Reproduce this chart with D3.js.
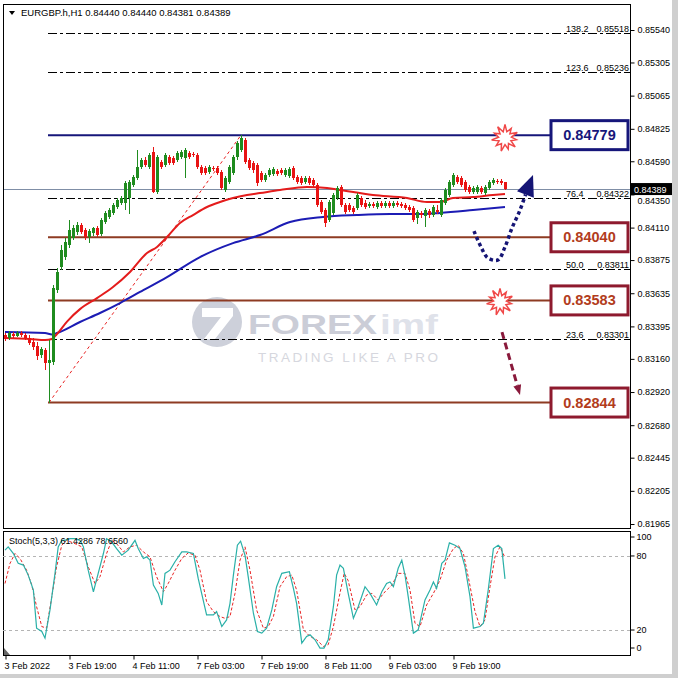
<!DOCTYPE html>
<html><head><meta charset="utf-8">
<script src="https://cdn.jsdelivr.net/npm/d3@7"></script>
<style>
body{margin:0;background:#fff;}
svg{display:block;font-family:"Liberation Sans",Arial,sans-serif;}
</style>
</head><body>
<svg id="c" width="678" height="678"></svg>
<script>
// ---------------- DATA ----------------
const titleText = "EURGBP.h,H1  0.84440 0.84440 0.84381 0.84389";
const stochTitle = "Stoch(5,3,3) 61.4286 78.6560";

const opens = [0.83333,0.83311,0.83340,0.83325,0.83347,0.83333,0.83311,0.83282,0.83253,0.83188,
0.83224,0.83130,0.83137,0.83658,0.83825,0.83897,0.83984,0.84035,0.84078,0.84129,
0.84092,0.84042,0.84071,0.84107,0.84064,0.84150,0.84187,0.84216,0.84259,0.84288,
0.84288,0.84324,0.84418,0.84469,0.84548,0.84599,0.84548,0.84657,0.84367,0.84585,
0.84563,0.84621,0.84614,0.84599,0.84621,0.84614,0.84650,0.84642,0.84635,0.84548,
0.84541,0.84512,0.84541,0.84541,0.84512,0.84382,0.84440,0.84505,0.84621,0.84671,
0.84744,0.84599,0.84577,0.84563,0.84505,0.84454,0.84491,0.84498,0.84519,0.84527,
0.84491,0.84483,0.84541,0.84476,0.84469,0.84440,0.84469,0.84454,0.84418,0.84295,
0.84237,0.84165,0.84216,0.84324,0.84404,0.84273,0.84273,0.84252,0.84252,0.84324,
0.84288,0.84266,0.84281,0.84259,0.84288,0.84266,0.84288,0.84266,0.84288,0.84281,
0.84273,0.84259,0.84252,0.84179,0.84216,0.84194,0.84230,0.84201,0.84237,0.84201,
0.84288,0.84346,0.84418,0.84476,0.84469,0.84440,0.84404,0.84367,0.84367,0.84396,
0.84360,0.84396,0.84433,0.84447,0.84447,0.84440];
const highs = [0.83347,0.83362,0.83354,0.83362,0.83362,0.83347,0.83333,0.83311,0.83282,0.83246,
0.83239,0.83296,0.83694,0.83817,0.83984,0.84035,0.84165,0.84129,0.84150,0.84143,
0.84107,0.84100,0.84114,0.84121,0.84179,0.84230,0.84252,0.84288,0.84324,0.84339,
0.84447,0.84454,0.84491,0.84671,0.84614,0.84621,0.84650,0.84693,0.84635,0.84599,
0.84650,0.84635,0.84628,0.84664,0.84671,0.84686,0.84664,0.84657,0.84650,0.84563,
0.84556,0.84563,0.84556,0.84556,0.84527,0.84483,0.84563,0.84635,0.84737,0.84779,
0.84758,0.84614,0.84592,0.84577,0.84519,0.84505,0.84541,0.84548,0.84534,0.84541,
0.84541,0.84548,0.84556,0.84491,0.84483,0.84483,0.84483,0.84469,0.84433,0.84310,
0.84252,0.84310,0.84360,0.84411,0.84418,0.84288,0.84288,0.84266,0.84360,0.84339,
0.84310,0.84295,0.84295,0.84302,0.84302,0.84302,0.84302,0.84302,0.84302,0.84295,
0.84288,0.84273,0.84266,0.84237,0.84230,0.84252,0.84244,0.84273,0.84273,0.84324,
0.84396,0.84454,0.84505,0.84491,0.84483,0.84454,0.84418,0.84411,0.84418,0.84411,
0.84418,0.84454,0.84469,0.84462,0.84462,0.84440];
const lows = [0.83289,0.83296,0.83311,0.83318,0.83318,0.83296,0.83260,0.83224,0.83152,0.83166,
0.83079,0.82844,0.83116,0.83637,0.83803,0.83875,0.83962,0.84020,0.84056,0.84064,
0.84020,0.83998,0.84049,0.84042,0.84049,0.84136,0.84172,0.84201,0.84244,0.84273,
0.84237,0.84208,0.84404,0.84454,0.84534,0.84548,0.84534,0.84360,0.84353,0.84534,
0.84548,0.84563,0.84563,0.84585,0.84606,0.84469,0.84606,0.84621,0.84534,0.84491,
0.84491,0.84498,0.84519,0.84491,0.84382,0.84367,0.84425,0.84491,0.84599,0.84657,
0.84570,0.84527,0.84505,0.84411,0.84440,0.84440,0.84476,0.84483,0.84483,0.84491,
0.84476,0.84469,0.84454,0.84425,0.84418,0.84425,0.84418,0.84404,0.84259,0.84208,
0.84114,0.84150,0.84201,0.84310,0.84259,0.84208,0.84223,0.84208,0.84237,0.84259,
0.84244,0.84252,0.84252,0.84244,0.84252,0.84252,0.84252,0.84252,0.84259,0.84252,
0.84237,0.84223,0.84150,0.84136,0.84179,0.84114,0.84179,0.84187,0.84208,0.84187,
0.84273,0.84331,0.84404,0.84425,0.84404,0.84367,0.84353,0.84353,0.84353,0.84353,
0.84346,0.84382,0.84418,0.84425,0.84418,0.84381];
const closes = [0.83304,0.83347,0.83325,0.83347,0.83333,0.83311,0.83275,0.83246,0.83181,0.83231,
0.83130,0.83152,0.83673,0.83789,0.83948,0.84006,0.84092,0.84107,0.84129,0.84078,
0.84042,0.84085,0.84107,0.84056,0.84165,0.84216,0.84237,0.84273,0.84310,0.84324,
0.84433,0.84440,0.84476,0.84548,0.84599,0.84563,0.84635,0.84367,0.84621,0.84548,
0.84635,0.84577,0.84577,0.84650,0.84657,0.84671,0.84621,0.84635,0.84548,0.84505,
0.84505,0.84548,0.84534,0.84505,0.84396,0.84469,0.84548,0.84621,0.84722,0.84758,
0.84585,0.84541,0.84527,0.84433,0.84454,0.84491,0.84527,0.84534,0.84498,0.84505,
0.84527,0.84534,0.84469,0.84440,0.84433,0.84469,0.84433,0.84418,0.84273,0.84223,
0.84143,0.84295,0.84346,0.84396,0.84273,0.84223,0.84237,0.84223,0.84346,0.84273,
0.84259,0.84281,0.84266,0.84288,0.84266,0.84288,0.84266,0.84288,0.84273,0.84266,
0.84252,0.84237,0.84165,0.84223,0.84201,0.84237,0.84201,0.84259,0.84223,0.84310,
0.84382,0.84440,0.84491,0.84440,0.84418,0.84382,0.84367,0.84396,0.84404,0.84367,
0.84404,0.84440,0.84454,0.84440,0.84433,0.84389];

// moving averages: [bar index, price]
const maFast = [[0,0.83311],[6.25,0.83304],[10,0.83296],[11.75,0.83304],[13,0.83340],[15.5,0.83430],[18.75,0.83520],[23,0.83600],[27,0.83680],[31.25,0.83789],[35.5,0.83926],[38,0.83970],[40.5,0.84042],[43.75,0.84143],[47,0.84201],[50.5,0.84259],[53.75,0.84295],[57,0.84324],[60.5,0.84346],[63.75,0.84360],[68.75,0.84382],[75.5,0.84404],[80.5,0.84396],[83.75,0.84382],[92,0.84346],[100.5,0.84324],[105.5,0.84295],[108.75,0.84295],[112,0.84324],[117,0.84331],[122,0.84346],[125,0.84353]];
const maSlow = [[0,0.83354],[10,0.83347],[11.75,0.83336],[13,0.83347],[18.75,0.83427],[23.75,0.83492],[28.75,0.83564],[33.75,0.83644],[40.5,0.83752],[48.75,0.83897],[57,0.83998],[63.75,0.84056],[71.25,0.84150],[79.5,0.84187],[88,0.84201],[96.25,0.84208],[104.5,0.84208],[108.75,0.84216],[117,0.84237],[125,0.84259]];

// stochastic %K and %D: [bar index, value]
const stochK = [[0,84.7],[0.8,87.4],[2.1,82],[3.3,74],[4.6,72.6],[5.8,64.5],[7.1,52.4],[7.9,21.5],[9.2,18.8],[10,13.4],[11.25,36.3],[12.5,65.9],[13.3,87.4],[14.2,92.7],[15,92.7],[16.25,94],[17.5,94],[18.75,92.7],[19.6,87.4],[20.8,68.5],[22.1,51],[23.3,65.9],[24.6,82],[25.4,94],[26.7,91.3],[27.9,86],[29.2,80.6],[30.8,84.7],[32.5,92.7],[33.3,86],[34.6,78],[35.4,79.3],[36.25,76.6],[37.1,56.4],[38.3,49.7],[39.2,40.3],[40,65.9],[41.25,68.5],[42.5,75.3],[44.2,83.3],[45.4,83.3],[47.1,82],[48.3,61.8],[50.4,32.3],[52.1,32.3],[52.9,34.9],[54.2,22.8],[55.4,28.2],[56.25,41.6],[57.1,64.5],[58.1,88.7],[58.9,92],[60,80.6],[60.8,63.2],[62.1,33.6],[63.1,18.8],[64.2,17.5],[65.4,21.5],[66.7,36.3],[67.9,55.1],[69.2,65.9],[71.1,67.2],[72.1,53.8],[72.9,41.6],[74.2,9.4],[75.4,14.8],[76.25,16.1],[77.5,12.1],[78.75,5.4],[79.75,5.4],[80.8,12.1],[82.1,38.9],[82.9,64.5],[83.75,72.6],[84.6,70],[85.8,49.7],[87.1,29.5],[88.3,38.9],[90,55.1],[91.25,49.7],[92.9,40.3],[94.2,51],[95.4,57.7],[96.25,59],[97.1,55.1],[98.3,70],[99.2,76.6],[100,64.5],[100.8,47],[102.1,17.5],[103.3,20.2],[105,44.4],[106.25,52.4],[107.1,59],[107.9,53.8],[109.2,74],[110,76.6],[111.1,90.6],[112.5,88.7],[113.75,86],[115,71.3],[116.25,47],[117.1,21.5],[118.75,22.8],[119.6,25.5],[120.8,52.4],[122.1,86],[123.3,88.7],[124.2,86],[125,61.4]];
const stochD = [[0,57.7],[1.25,74],[2.5,82],[3.75,78],[5.4,68.5],[6.7,56.4],[7.9,38.9],[9.2,22.8],[10.4,21.5],[11.7,47],[12.9,71.3],[14.2,88.7],[15.4,92.7],[17.5,90],[19.2,87.4],[20.8,71.3],[22.5,57.7],[23.75,63.2],[25.4,82],[26.7,92.7],[27.9,90],[29.6,83.3],[31.25,87.4],[32.9,88.7],[34.6,83.3],[36.25,79.3],[37.9,63.2],[39.6,51],[40.8,57.7],[42.5,68.5],[44.2,78],[45.8,82.5],[47.5,80.6],[48.75,68.5],[50.4,43],[52.1,34.9],[53.75,30.9],[55,29.5],[56.25,30.9],[57.5,49.7],[58.75,76.6],[60,87.4],[61.25,68.5],[62.9,36.3],[64.6,21.5],[65.8,22.8],[67.1,30.9],[68.75,55.1],[70.4,63.2],[71.7,64.5],[72.9,52.4],[74.6,20.2],[76.25,14.8],[77.9,12.1],[79.6,6.7],[80.8,8.1],[82.1,22.8],[83.75,50],[84.8,66],[85.8,60],[87.5,36.3],[88.75,38.9],[90.4,48.4],[91.7,49.7],[93.3,44.4],[95,51],[96.7,56.4],[98.3,65.9],[100,65.9],[101.25,52.4],[102.5,25.5],[103.75,22.8],[105.4,40.3],[107.1,49.7],[108.75,60.5],[110.4,76.6],[112.1,86],[113.3,88.7],[114.6,82],[115.8,63.2],[117.5,34.9],[118.75,22.8],[120,28.2],[121.25,55.1],[122.5,79.3],[123.75,87.4],[125,78.7]];

const priceTicks = [0.85540,0.85305,0.85065,0.84825,0.84590,0.84350,0.84110,0.83875,0.83635,0.83395,0.83160,0.82920,0.82680,0.82445,0.82205,0.81965];
const stochTicks = [0,20,80,100];
const timeIdx = [0,16,32,48,64,80,96,112];
const timeLabels = ["3 Feb 2022","3 Feb 19:00","4 Feb 11:00","7 Feb 03:00","7 Feb 19:00","8 Feb 11:00","9 Feb 03:00","9 Feb 19:00"];

const fibRatios = ["138.2","123.6","76.4","50.0","23.6"];
const fibPrices = [0.85518,0.85236,0.84322,0.83811,0.83301];
const levelPrices = [0.84779,0.84040,0.83583,0.82844];
const levelLabels = ["0.84779","0.84040","0.83583","0.82844"];
const currentPrice = 0.84389;
const swingLow = [11,0.82844];
const swingHigh = [59,0.84779];
const burstPoints = [[125,0.84758],[123.75,0.83572]];
const upArrow = [[117.25,0.84085],[119,0.83970],[120.75,0.83890],[123.25,0.83876],[125,0.83970],[126.75,0.84107],[128.75,0.84237],[130.25,0.84360],[132,0.84491]];
const downArrow = [[124.25,0.83354],[128.75,0.82899]];

// ---------------- DRAW ----------------
const svg = d3.select("#c");
const P = {l:3, r:630, t:4, b:528, st:531, sb:655};
const x = d3.scaleLinear().domain([0,125]).range([5,505]);
const y = d3.scaleLinear().domain([0.81965,0.85540]).range([524,30]);
const ys = d3.scaleLinear().domain([0,100]).range([654.7,531.3]);

// outer window edges
svg.append("rect").attr("x",672).attr("y",0).attr("width",6).attr("height",678).attr("fill","#cfcfcf");
svg.append("rect").attr("x",0).attr("y",674).attr("width",678).attr("height",4).attr("fill","#cfcfcf");

const defs = svg.append("defs");
defs.append("clipPath").attr("id","mc").append("rect").attr("x",P.l).attr("y",P.t).attr("width",P.r-P.l).attr("height",P.b-P.t);
defs.append("clipPath").attr("id","sc").append("rect").attr("x",P.l).attr("y",P.st).attr("width",P.r-P.l).attr("height",P.sb-P.st);

// watermark
const wm = svg.append("g");
wm.append("circle").attr("cx",217).attr("cy",322).attr("r",25).attr("fill","#cdd0da");
wm.append("path").attr("d","M202,308 H233 V316 L215,339 H204 L221,317 H202 Z").attr("fill","#fff");
wm.append("text").attr("x",248).attr("y",334).attr("font-size",28).attr("font-weight","bold")
  .attr("textLength",129).attr("lengthAdjust","spacingAndGlyphs").attr("fill","#cbcdd7").text("FOREX");
wm.append("text").attr("x",380).attr("y",334).attr("font-size",28).attr("font-weight","bold")
  .attr("textLength",58).attr("lengthAdjust","spacingAndGlyphs").attr("fill","#dfe2ea").text("imf");
wm.append("text").attr("x",258).attr("y",362).attr("font-size",13.5)
  .attr("textLength",180).attr("lengthAdjust","spacing").attr("fill","#d6d7de").text("TRADING LIKE A PRO");

const main = svg.append("g").attr("clip-path","url(#mc)");

// fibo dash-dot lines
const fibX0 = x(swingLow[0]) - 1;
fibPrices.forEach((p,i)=>{
  main.append("line").attr("x1",fibX0).attr("x2",P.r).attr("y1",Math.round(y(p))+0.5).attr("y2",Math.round(y(p))+0.5)
    .attr("stroke","#000").attr("stroke-width",1).attr("stroke-dasharray","9,3,3,3");
  main.append("text").attr("x",566).attr("y",Math.round(y(p))-1).attr("font-size",9).attr("fill","#000").text(fibRatios[i]);
  main.append("text").attr("x",629).attr("y",Math.round(y(p))-1).attr("font-size",9).attr("fill","#000")
    .attr("text-anchor","end").text(p.toFixed(5));
});

// horizontal levels
const levelColors = ["#16167a","#8e3b22","#8e3b22","#8e3b22"];
levelPrices.forEach((p,i)=>{
  main.append("line").attr("x1",fibX0).attr("x2",550).attr("y1",y(p)).attr("y2",y(p))
    .attr("stroke",levelColors[i]).attr("stroke-width",2);
});

// current price line
main.append("line").attr("x1",P.l).attr("x2",P.r).attr("y1",Math.round(y(currentPrice))+0.5).attr("y2",Math.round(y(currentPrice))+0.5)
  .attr("stroke","#7f8ea6").attr("stroke-width",1);

// trend dashed line
main.append("line").attr("x1",x(swingLow[0])).attr("y1",y(swingLow[1])).attr("x2",x(swingHigh[0])).attr("y2",y(swingHigh[1]))
  .attr("stroke","#e82020").attr("stroke-width",1).attr("stroke-dasharray","3,3");

// moving averages
const lineGen = d3.line().x(d=>x(d[0])).y(d=>y(d[1])).curve(d3.curveMonotoneX);
main.append("path").attr("d",lineGen(maSlow)).attr("fill","none").attr("stroke","#1c1cb4").attr("stroke-width",2);
main.append("path").attr("d",lineGen(maFast)).attr("fill","none").attr("stroke","#e41c1c").attr("stroke-width",2);

// candles
const candles = opens.map((o,i)=>({i,o,h:highs[i],l:lows[i],c:closes[i]}));
const cg = main.append("g").attr("shape-rendering","crispEdges");
candles.forEach(d=>{
  const col = d.c >= d.o ? "#1f8c1f" : "#e81414";
  const cx = x(d.i);
  cg.append("line").attr("x1",cx+0.5).attr("x2",cx+0.5).attr("y1",y(d.h)).attr("y2",y(d.l)).attr("stroke",col);
  const top = Math.min(y(d.o),y(d.c)), hgt = Math.max(1,Math.abs(y(d.o)-y(d.c)));
  cg.append("rect").attr("x",cx-1).attr("y",top).attr("width",3).attr("height",hgt).attr("fill",col);
});

// bursts
function burst(cx,cy){
  const n=11, pts=[];
  for(let k=0;k<n*2;k++){
    const r = k%2===0 ? (k%4===0?13.5:11.5) : 6.5;
    const a = -Math.PI/2 + k*Math.PI/n;
    pts.push([cx+r*Math.cos(a), cy+r*Math.sin(a)]);
  }
  return "M"+pts.map(p=>p.join(",")).join("L")+"Z";
}
burstPoints.forEach(b=>{
  svg.append("path").attr("d",burst(x(b[0]),y(b[1]))).attr("fill","#fff").attr("stroke","#f04848").attr("stroke-width",1.5);
});

// arrows
function arrowHead(p0,p1,len,hw){
  const dx=p1[0]-p0[0], dy=p1[1]-p0[1], L=Math.hypot(dx,dy), ux=dx/L, uy=dy/L;
  const bx=p1[0]-ux*len, by=p1[1]-uy*len;
  return {base:[bx,by], d:`M${p1[0]},${p1[1]}L${bx+uy*hw},${by-ux*hw}L${bx-uy*hw},${by+ux*hw}Z`};
}
const upPx = upArrow.map(d=>[x(d[0]),y(d[1])]);
const upHead = arrowHead(upPx[upPx.length-2], upPx[upPx.length-1], 21, 9);
const upBody = upPx.slice(0,-1).concat([upHead.base]);
svg.append("path").attr("d",d3.line().curve(d3.curveCatmullRom)(upBody)).attr("fill","none")
  .attr("stroke","#151575").attr("stroke-width",3.5).attr("stroke-dasharray","3.5,3");
svg.append("path").attr("d",upHead.d).attr("fill","#151575");

const dnPx = downArrow.map(d=>[x(d[0]),y(d[1])]);
const dnHead = arrowHead(dnPx[0], dnPx[1], 10, 4);
svg.append("line").attr("x1",dnPx[0][0]).attr("y1",dnPx[0][1]).attr("x2",dnHead.base[0]).attr("y2",dnHead.base[1])
  .attr("stroke","#8a1a3c").attr("stroke-width",3).attr("stroke-dasharray","7,4");
svg.append("path").attr("d",dnHead.d).attr("fill","#8a1a3c");

// level label boxes
const boxStroke = ["#16167a","#8e1a2e","#8e1a2e","#8e1a2e"];
const boxText = ["#16167a","#b23c1c","#b23c1c","#b23c1c"];
levelPrices.forEach((p,i)=>{
  const cy = y(p);
  svg.append("rect").attr("x",551).attr("y",cy-14.5).attr("width",77).attr("height",29)
    .attr("fill","#fff").attr("stroke",boxStroke[i]).attr("stroke-width",3);
  svg.append("text").attr("x",589.5).attr("y",cy+5).attr("text-anchor","middle")
    .attr("font-size",14.5).attr("font-weight","bold").attr("fill",boxText[i]).text(levelLabels[i]);
});

// panel frames
svg.append("rect").attr("x",P.l+0.5).attr("y",P.t+0.5).attr("width",P.r-P.l).attr("height",P.b-P.t)
  .attr("fill","none").attr("stroke","#000");
svg.append("rect").attr("x",P.l+0.5).attr("y",P.st+0.5).attr("width",P.r-P.l).attr("height",P.sb-P.st)
  .attr("fill","none").attr("stroke","#000");

// price axis (the tick under the current-price tag is left out of the visible labels' overlap)
const pa = svg.append("g").attr("transform",`translate(${P.r+0.5},0)`)
  .call(d3.axisRight(y).tickValues(priceTicks).tickSize(4).tickPadding(3).tickFormat(d=>d.toFixed(5)));
pa.select(".domain").remove();
pa.selectAll("text").attr("font-size",9).attr("font-family","Liberation Sans, Arial, sans-serif").attr("fill","#000");
pa.selectAll("line").attr("stroke","#000");
// the label hidden behind the current price tag only peeks out below it
pa.selectAll(".tick").filter(d=>Math.abs(y(d)-y(currentPrice))<12).select("text").attr("dy","1.05em");

// current price tag
svg.append("rect").attr("x",P.r+1).attr("y",y(currentPrice)-6).attr("width",41).attr("height",12).attr("fill","#000");
svg.append("text").attr("x",P.r+4).attr("y",y(currentPrice)+3.5).attr("font-size",9).attr("fill","#fff").text(currentPrice.toFixed(5));

// title
svg.append("path").attr("d","M9,11 L15,11 L12,15 Z").attr("fill","#000");
svg.append("text").attr("x",21).attr("y",16).attr("font-size",9.5).attr("fill","#000").text(titleText);

// stochastic panel
const sg = svg.append("g").attr("clip-path","url(#sc)");
[20,80].forEach(v=>{
  sg.append("line").attr("x1",P.l).attr("x2",P.r).attr("y1",Math.round(ys(v))+0.5).attr("y2",Math.round(ys(v))+0.5)
    .attr("stroke","#b4b4b4").attr("stroke-dasharray","3,3");
});
const sLine = d3.line().x(d=>x(d[0])).y(d=>ys(d[1]));
sg.append("path").attr("d",sLine(stochD)).attr("fill","none").attr("stroke","#e82424").attr("stroke-width",1).attr("stroke-dasharray","3,2");
sg.append("path").attr("d",sLine(stochK)).attr("fill","none").attr("stroke","#2ab0a8").attr("stroke-width",1.2);
svg.append("text").attr("x",9).attr("y",544).attr("font-size",9).attr("fill","#000").text(stochTitle);
svg.append("path").attr("d","M4,648 L4,655 L10,655 Z").attr("fill","#666");

const sa = svg.append("g").attr("transform",`translate(${P.r+0.5},0)`)
  .call(d3.axisRight(ys).tickValues(stochTicks).tickSize(4).tickPadding(2));
sa.select(".domain").remove();
sa.selectAll(".tick").attr("transform",d=>`translate(0,${d===100?537:d===0?648:ys(d)})`);
sa.selectAll("text").attr("font-size",9).attr("font-family","Liberation Sans, Arial, sans-serif").attr("fill","#000");
sa.selectAll("line").attr("stroke","#000");

// time axis
const ta = svg.append("g").attr("transform",`translate(0,${P.sb+0.5})`)
  .call(d3.axisBottom(x).tickValues(timeIdx).tickSize(4).tickPadding(3).tickFormat((d,i)=>timeLabels[i]));
ta.select(".domain").remove();
ta.selectAll("text").attr("text-anchor","start").attr("x",-1).attr("font-size",9)
  .attr("font-family","Liberation Sans, Arial, sans-serif").attr("fill","#000");
ta.selectAll("line").attr("stroke","#000").attr("transform","translate(0.5,0)");
</script>
</body></html>
